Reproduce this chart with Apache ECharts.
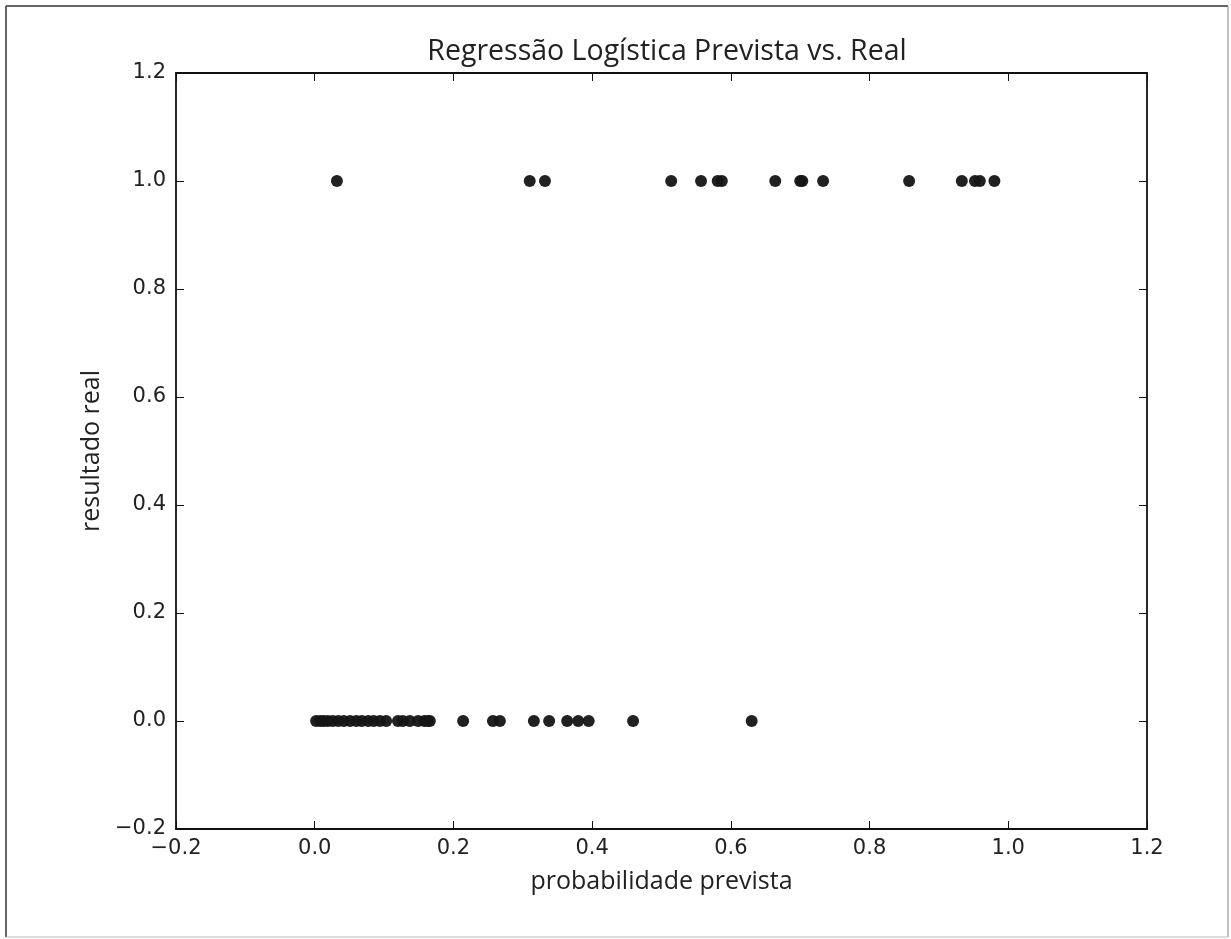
<!DOCTYPE html>
<html><head><meta charset="utf-8">
<script src="https://cdn.jsdelivr.net/npm/echarts@6/dist/echarts.min.js"></script>
<style>html,body{margin:0;padding:0;background:#fff}#c{width:1231px;height:939px}</style>
</head><body><div id="c"></div>
<script>
const titleText = 'Regressão Logística Prevista vs. Real';
const xName = 'probabilidade prevista';
const yName = 'resultado real';
const probOutcome1 = [0.032, 0.310, 0.332, 0.514, 0.557, 0.581, 0.587, 0.664, 0.700, 0.703, 0.733, 0.857, 0.933, 0.952, 0.959, 0.980];
const probOutcome0 = [0.002, 0.008, 0.013, 0.019, 0.026, 0.034, 0.042, 0.051, 0.060, 0.068, 0.077, 0.085, 0.094, 0.103, 0.120, 0.127, 0.137, 0.149, 0.158, 0.163, 0.166, 0.214, 0.257, 0.267, 0.316, 0.338, 0.364, 0.380, 0.395, 0.459, 0.630];

const pts = probOutcome1.map(v => [v, 1]).concat(probOutcome0.map(v => [v, 0]));
const fmt = v => { const s = Math.abs(v).toFixed(1); return v < -1e-9 ? '\u2212' + s : s; };
const axisLine = {show: true, onZero: false, lineStyle: {color: '#111', width: 1.8}};
const tick = {show: true, inside: true, length: 8, lineStyle: {color: '#111', width: 1}};
const labelStyle = {fontFamily: 'DejaVu Sans', fontSize: 21, color: '#222'};

const chart = echarts.init(document.getElementById('c'));
chart.setOption({
  backgroundColor: '#fff',
  animation: false,
  title: {text: titleText, left: 662, top: 32, textAlign: 'center',
    textStyle: {fontFamily: 'Open Sans', fontSize: 28.5, fontWeight: 'normal', color: '#222'}},
  grid: {left: 176, right: 84, top: 73, bottom: 110, show: false},
  xAxis: [
    {type: 'value', min: -0.2, max: 1.2, interval: 0.2, position: 'bottom',
      name: xName, nameLocation: 'middle', nameGap: 40,
      nameTextStyle: {fontFamily: 'Open Sans', fontSize: 25, color: '#222'},
      axisLine: axisLine, axisTick: tick, splitLine: {show: false},
      axisLabel: Object.assign({formatter: fmt, margin: 9}, labelStyle)},
    {type: 'value', min: -0.2, max: 1.2, interval: 0.2, position: 'top',
      axisLine: axisLine, axisTick: tick, splitLine: {show: false}, axisLabel: {show: false}}
  ],
  yAxis: [
    {type: 'value', min: -0.2, max: 1.2, interval: 0.2, position: 'left',
      name: yName, nameLocation: 'middle', nameGap: 70, nameRotate: 90,
      nameTextStyle: {fontFamily: 'Open Sans', fontSize: 25, color: '#222'},
      axisLine: axisLine, axisTick: tick, splitLine: {show: false},
      axisLabel: Object.assign({formatter: fmt, margin: 10}, labelStyle)},
    {type: 'value', min: -0.2, max: 1.2, interval: 0.2, position: 'right',
      axisLine: axisLine, axisTick: tick, splitLine: {show: false}, axisLabel: {show: false}}
  ],
  graphic: [
    {type: 'line', shape: {x1: 6, y1: 6, x2: 1228, y2: 6}, style: {stroke: '#333', lineWidth: 1.5}},
    {type: 'line', shape: {x1: 6, y1: 6, x2: 6, y2: 937}, style: {stroke: '#333', lineWidth: 1.5}},
    {type: 'line', shape: {x1: 1228, y1: 6, x2: 1228, y2: 937}, style: {stroke: '#999', lineWidth: 1.2}},
    {type: 'line', shape: {x1: 6, y1: 937, x2: 1228, y2: 937}, style: {stroke: '#bbb', lineWidth: 1.2}}
  ],
  series: [{
    type: 'scatter', data: pts, symbol: 'circle', symbolSize: 12,
    itemStyle: {color: '#151515', opacity: 0.95}
  }]
});
</script></body></html>
